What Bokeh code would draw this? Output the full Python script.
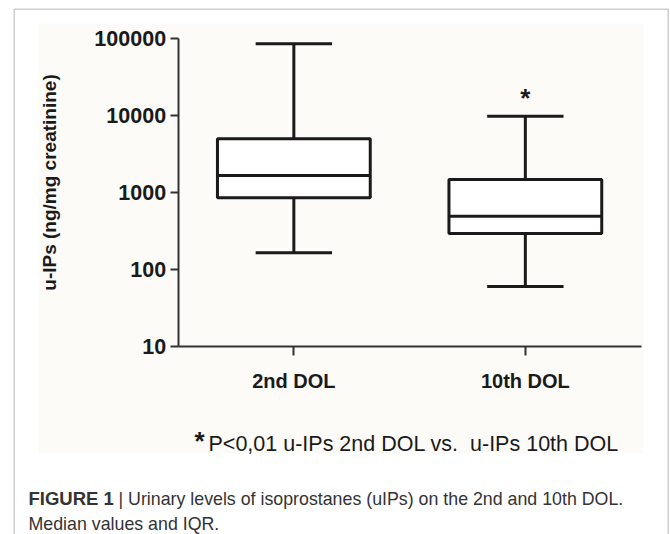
import math
from bokeh.plotting import figure
from bokeh.models import Range1d, ColumnDataSource, FixedTicker, BoxAnnotation, LinearScale
from bokeh.transform import dodge
from bokeh.core.properties import value
from bokeh.embed import file_html
from bokeh.resources import INLINE

# ---- data ----
categories = ["2nd DOL", "10th DOL"]
whisker_low = [165, 60]
q1 = [853, 294]
median = [1660, 492]
q3 = [4980, 1475]
whisker_high = [85300, 9800]
y_ticks = [10, 100, 1000, 10000, 100000]
y_tick_labels = ["10", "100", "1000", "10000", "100000"]
y_label = "u-IPs (ng/mg creatinine)"
sig_marker = "*"
sig_note = "P<0,01 u-IPs 2nd DOL vs.\u00a0 u-IPs 10th DOL"
caption_bold = "FIGURE 1"
caption_line1 = "| Urinary levels of isoprostanes (uIPs) on the 2nd and 10th DOL."
caption_line2 = "Median values and IQR."

# ---- layout constants (pixels) ----
W, H = 670, 534
AX_LEFT = 177.6      # x pixel of the y axis
UNIT = 231.5         # pixels per category slot
AX_TOP = 38          # y pixel of the top tick
DECADE = 77          # pixels per decade
FONT = "Liberation Sans"
INK = "#1a1a1a"
AXC = "#333333"

x_pos = [i + 0.5 for i in range(len(categories))]
top_log = math.log10(y_ticks[-1])
y_lo = 10 ** (top_log - (H - AX_TOP) / DECADE)
y_hi = 10 ** (top_log + AX_TOP / DECADE)

src = ColumnDataSource(dict(x=x_pos, low=whisker_low, q1=q1, med=median,
                            q3=q3, high=whisker_high))

p = figure(width=W, height=H,
           x_range=Range1d(-AX_LEFT / UNIT, (W - AX_LEFT) / UNIT),
           y_range=Range1d(y_lo, y_hi), y_axis_type="log",
           output_backend="svg", toolbar_location=None, min_border=0)
p.background_fill_color = "white"
p.border_fill_color = "white"
p.outline_line_color = None
p.grid.visible = False
p.extra_x_ranges = {"px": Range1d(0, W)}
p.extra_y_ranges = {"px": Range1d(H, 0)}
p.extra_x_scales = {"px": LinearScale()}
p.extra_y_scales = {"px": LinearScale()}

# light panel of the figure image and the outer frame (open at the bottom)
p.add_layout(BoxAnnotation(left=38, right=643, top=H - 23, bottom=H - 453,
                           left_units="screen", right_units="screen",
                           top_units="screen", bottom_units="screen",
                           fill_color="#fcfbf8", fill_alpha=1.0, line_color=None,
                           level="underlay"))
p.add_layout(BoxAnnotation(left=13.75, right=W - 2.3, top=H - 8.75, bottom=-20,
                           left_units="screen", right_units="screen",
                           top_units="screen", bottom_units="screen",
                           fill_color=None, fill_alpha=0, line_color="#5a5a5a",
                           line_width=1.5, level="underlay"))

# whiskers
p.segment(x0="x", y0="q3", x1="x", y1="high", source=src, line_color=INK, line_width=3)
p.segment(x0="x", y0="q1", x1="x", y1="low", source=src, line_color=INK, line_width=3)
# caps
p.segment(x0=dodge("x", -0.165), y0="high", x1=dodge("x", 0.165), y1="high",
          source=src, line_color=INK, line_width=3)
p.segment(x0=dodge("x", -0.165), y0="low", x1=dodge("x", 0.165), y1="low",
          source=src, line_color=INK, line_width=3)
# boxes
p.vbar(x="x", top="q3", bottom="q1", width=0.66, source=src,
       fill_color="white", line_color=INK, line_width=3)
# medians
p.segment(x0=dodge("x", -0.33), y0="med", x1=dodge("x", 0.33), y1="med",
          source=src, line_color=INK, line_width=3)

# significance asterisk above 10th DOL
p.text(x=[x_pos[1]], y=[whisker_high[1] * 1.7], text=[sig_marker],
       text_font=value(FONT), text_font_style="bold", text_font_size="26px",
       text_align="center", text_baseline="alphabetic", text_color=INK)

# axes (drawn at fixed positions inside the canvas)
xa, ya = p.xaxis[0], p.yaxis[0]
ya.fixed_location = 0
ya.bounds = (y_ticks[0], y_ticks[-1])
ya.ticker = FixedTicker(ticks=y_ticks)
ya.major_label_overrides = {t: l for t, l in zip(y_ticks, y_tick_labels)}
xa.fixed_location = y_ticks[0]
xa.bounds = (0, len(categories))
xa.ticker = FixedTicker(ticks=x_pos)
xa.major_label_overrides = {t: l for t, l in zip(x_pos, categories)}
for ax in (xa, ya):
    ax.axis_line_width = 2
    ax.axis_line_color = AXC
    ax.major_tick_line_width = 2
    ax.major_tick_line_color = AXC
    ax.major_tick_in = 0
    ax.minor_tick_line_color = None
    ax.major_label_text_font = FONT
    ax.major_label_text_font_style = "bold"
    ax.major_label_text_color = INK
ya.major_tick_out = 8
ya.major_label_standoff = 4
ya.major_label_text_font_size = "21.5px"
xa.major_tick_out = 9
xa.major_label_standoff = 14
xa.major_label_text_font_size = "20px"

# y axis title
p.text(x=[49], y=[182], text=[y_label], angle=math.pi / 2,
       x_range_name="px", y_range_name="px",
       text_font=value(FONT), text_font_style="bold", text_font_size="19px",
       text_align="center", text_baseline="middle", text_color=INK)

# footnote and caption
p.text(x=[194], y=[440], text=[sig_marker], x_range_name="px", y_range_name="px",
       text_font=value(FONT), text_font_style="bold", text_font_size="26px",
       text_color=INK, text_baseline="alphabetic")
p.text(x=[208], y=[443], text=[sig_note], x_range_name="px", y_range_name="px",
       text_font=value(FONT), text_font_size="21.5px",
       text_color=INK, text_baseline="alphabetic")
p.text(x=[28], y=[498], text=[caption_bold], x_range_name="px", y_range_name="px",
       text_font=value(FONT), text_font_style="bold", text_font_size="18.5px",
       text_color="#333333", text_baseline="alphabetic")
p.text(x=[118], y=[498], text=[caption_line1], x_range_name="px", y_range_name="px",
       text_font=value(FONT), text_font_size="17.8px",
       text_color="#333333", text_baseline="alphabetic")
p.text(x=[28], y=[523], text=[caption_line2], x_range_name="px", y_range_name="px",
       text_font=value(FONT), text_font_size="17.8px",
       text_color="#333333", text_baseline="alphabetic")

open("out.html", "w").write(file_html(p, INLINE))
